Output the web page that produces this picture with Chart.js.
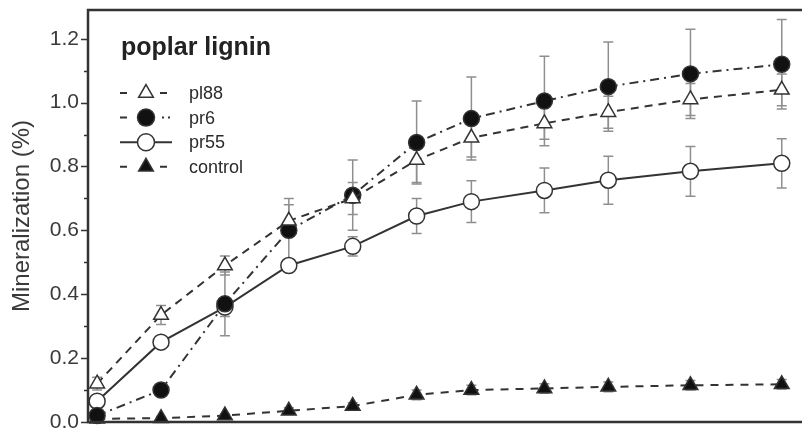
<!DOCTYPE html>
<html>
<head>
<meta charset="utf-8">
<title>Mineralization of poplar lignin</title>
<script src="https://cdn.jsdelivr.net/npm/chart.js@4.4.0/dist/chart.umd.min.js"></script>
<style>
  html, body { margin: 0; padding: 0; background: #fff; }
  #wrap { width: 810px; height: 432px; }
</style>
</head>
<body>
<div id="wrap"><canvas id="mineral-chart"></canvas></div>
<script>
// incubation time (days)
var days = [0, 7, 14, 21, 28, 35, 41, 49, 56, 65, 75];

// mineralization (%) and standard deviation per strain
var pl88 = [0.12, 0.335, 0.49, 0.63, 0.70, 0.82, 0.89, 0.935, 0.97, 1.01, 1.04];
var pl88Err = [0.02, 0.03, 0.03, 0.05, 0.05, 0.07, 0.06, 0.05, 0.05, 0.05, 0.05];
var pr6 = [0.02, 0.10, 0.37, 0.60, 0.71, 0.875, 0.95, 1.005, 1.05, 1.09, 1.12];
var pr6Err = [0.01, 0.01, 0.10, 0.10, 0.11, 0.13, 0.13, 0.14, 0.14, 0.14, 0.14];
var pr55 = [0.065, 0.25, 0.36, 0.49, 0.55, 0.645, 0.69, 0.725, 0.757, 0.785, 0.81];
var pr55Err = [0.02, 0.02, 0.03, 0.02, 0.03, 0.055, 0.065, 0.07, 0.075, 0.078, 0.077];
var control = [0.01, 0.012, 0.02, 0.035, 0.05, 0.085, 0.10, 0.105, 0.11, 0.115, 0.118];
var controlErr = [0.005, 0.005, 0.005, 0.01, 0.01, 0.015, 0.015, 0.015, 0.015, 0.015, 0.015];

var yTicks = [0, 0.1, 0.2, 0.3, 0.4, 0.5, 0.6, 0.7, 0.8, 0.9, 1.0, 1.1, 1.2];
var chartTitle = 'poplar lignin';

var FONT = "'Liberation Sans', Arial, Helvetica, sans-serif";
var INK = '#333';

function toPoints(values) {
    return values.map(function (v, i) { return { x: days[i], y: v }; });
}

var series = [
    { label: 'pl88', data: pl88, errors: pl88Err, style: 'triangle', fill: '#fff', dash: [8, 6], left: 'dash', right: 'dash' },
    { label: 'pr6', data: pr6, errors: pr6Err, style: 'circle', fill: '#111', dash: [9, 5, 2, 5], left: 'dash', right: 'dot' },
    { label: 'pr55', data: pr55, errors: pr55Err, style: 'circle', fill: '#fff', dash: [], left: 'line', right: 'line' },
    { label: 'control', data: control, errors: controlErr, style: 'triangle', fill: '#111', dash: [8, 7], left: 'dash', right: 'dash' }
];

// gray error bars with caps, drawn under the markers
var errorBars = {
    id: 'errorBars',
    beforeDatasetsDraw: function (chart) {
        var ctx = chart.ctx, xs = chart.scales.x, ys = chart.scales.y;
        ctx.save();
        ctx.strokeStyle = '#8f8f8f';
        ctx.lineWidth = 1.5;
        chart.data.datasets.forEach(function (ds) {
            ds.data.forEach(function (p, i) {
                var e = ds.errors[i];
                var x = xs.getPixelForValue(p.x);
                var y1 = ys.getPixelForValue(p.y - e);
                var y2 = ys.getPixelForValue(p.y + e);
                ctx.beginPath();
                ctx.moveTo(x, y1); ctx.lineTo(x, y2);
                ctx.moveTo(x - 5, y1); ctx.lineTo(x + 5, y1);
                ctx.moveTo(x - 5, y2); ctx.lineTo(x + 5, y2);
                ctx.stroke();
            });
        });
        ctx.restore();
    }
};

// box frame, y tick marks and the legend inside the plot
var frameAndLegend = {
    id: 'frameAndLegend',
    afterDraw: function (chart) {
        var ctx = chart.ctx, a = chart.chartArea, ys = chart.scales.y;
        ctx.save();
        ctx.strokeStyle = INK;
        ctx.lineWidth = 2.5;
        ctx.beginPath();
        ctx.moveTo(a.right + 2, a.top);
        ctx.lineTo(a.left, a.top);
        ctx.lineTo(a.left, a.bottom);
        ctx.lineTo(a.right + 2, a.bottom);
        ctx.stroke();

        ctx.lineWidth = 1.5;
        yTicks.forEach(function (v, i) {
            var y = Math.round(ys.getPixelForValue(v)) + 0.5;
            var len = i % 2 === 0 ? 7 : 4;
            ctx.beginPath();
            ctx.moveTo(a.left - len, y);
            ctx.lineTo(a.left, y);
            ctx.stroke();
        });

        ctx.fillStyle = '#222';
        ctx.font = 'bold 25px ' + FONT;
        ctx.textBaseline = 'middle';
        ctx.textAlign = 'left';
        ctx.fillText(chartTitle, 121, 48);

        series.forEach(function (s, i) {
            var y = 93 + i * 24.6;
            ctx.strokeStyle = INK;
            ctx.lineWidth = 2;
            ctx.setLineDash([]);
            ctx.beginPath();
            if (s.left === 'line') {
                ctx.moveTo(120, y); ctx.lineTo(172, y);
            } else {
                ctx.moveTo(120, y); ctx.lineTo(127, y);
                if (s.right === 'dash') {
                    ctx.moveTo(160, y); ctx.lineTo(167, y);
                } else {
                    ctx.moveTo(162, y); ctx.lineTo(164, y);
                    ctx.moveTo(168, y); ctx.lineTo(170, y);
                }
            }
            ctx.stroke();
            ctx.fillStyle = s.fill;
            ctx.lineWidth = 1.5;
            Chart.helpers.drawPoint(ctx, { pointStyle: s.style, radius: 8.5, rotation: 0, borderWidth: 1.5 }, 146, y);
            ctx.fillStyle = '#2a2a2a';
            ctx.font = '18px ' + FONT;
            ctx.fillText(s.label, 189, y + 1);
        });
        ctx.restore();
    }
};

var ctx = document.getElementById('mineral-chart').getContext('2d');

var mineralChart = new Chart(ctx, {
    type: 'line',
    data: {
        datasets: series.map(function (s) {
            return {
                label: s.label,
                data: toPoints(s.data),
                errors: s.errors,
                borderColor: INK,
                borderWidth: 2,
                borderDash: s.dash,
                pointStyle: s.style,
                pointRadius: s.style === 'triangle' ? 8.5 : 8,
                pointBackgroundColor: s.fill,
                pointBorderColor: INK,
                pointBorderWidth: 1.5,
                tension: 0,
                clip: false
            };
        })
    },
    options: {
        responsive: true,
        maintainAspectRatio: false,
        animation: false,
        layout: { padding: { top: 9, bottom: 7, left: 0, right: 0 } },
        plugins: {
            legend: { display: false },
            tooltip: { enabled: false }
        },
        scales: {
            x: {
                type: 'linear',
                min: -1,
                max: 77,
                display: false
            },
            y: {
                min: 0,
                max: 1.29,
                afterFit: function (scale) {
                    scale.width = 88;
                    scale.paddingTop = 0;
                    scale.paddingBottom = 0;
                },
                grid: { display: true, drawOnChartArea: false, drawTicks: false },
                border: { display: false },
                ticks: {
                    stepSize: 0.1,
                    padding: 9,
                    color: '#3a3a3a',
                    font: { family: FONT, size: 21 },
                    callback: function (v) {
                        var r = Math.round(v * 10);
                        return (r % 2 === 0 && v < 1.25) ? (r / 10).toFixed(1) : '';
                    }
                },
                title: {
                    display: true,
                    text: 'Mineralization (%)',
                    color: '#3a3a3a',
                    font: { family: FONT, size: 24 },
                    padding: { top: 8, bottom: 0 }
                }
            }
        }
    },
    plugins: [errorBars, frameAndLegend]
});
</script>
</body>
</html>
